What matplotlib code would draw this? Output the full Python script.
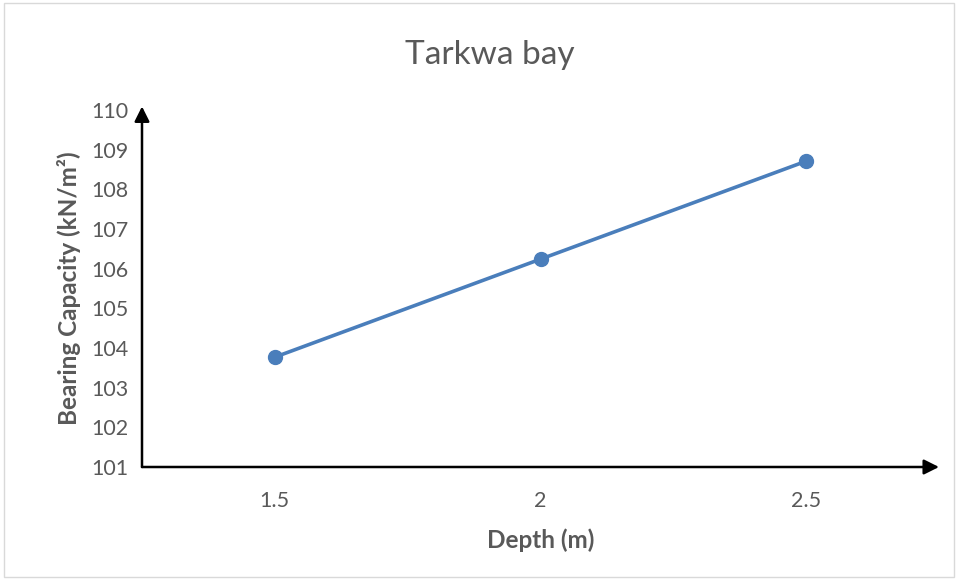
import matplotlib
matplotlib.use("Agg")
import matplotlib.pyplot as plt
from matplotlib.patches import Rectangle

depth = [1.5, 2, 2.5]
capacity = [103.77, 106.24, 108.71]
y_ticks = [101, 102, 103, 104, 105, 106, 107, 108, 109, 110]

plt.rcParams['font.family'] = ['Lato', 'DejaVu Sans']
grey = '#595959'
blue = '#4A7EBB'

fig = plt.figure(figsize=(9.58, 5.8), dpi=100)
fig.patch.set_facecolor('white')
fig.add_artist(Rectangle((0.004, 0.005), 0.992, 0.99, transform=fig.transFigure,
                         fill=False, edgecolor='#D9D9D9', linewidth=1.0))

ax = fig.add_axes([142 / 958, 113 / 580, (939 - 142) / 958, (467 - 110) / 580])
pos = list(range(len(depth)))
ax.plot(pos, capacity, color=blue, linewidth=2.6, marker='o', markersize=10,
        markerfacecolor=blue, markeredgecolor=blue, zorder=3)

ax.set_xlim(-0.5, len(depth) - 0.5)
ax.set_ylim(y_ticks[0], y_ticks[-1])
ax.set_xticks(pos)
ax.set_xticklabels([str(d) for d in depth])
ax.set_yticks(y_ticks)
ax.tick_params(axis='both', length=0, labelsize=15.5, colors=grey)
ax.tick_params(axis='x', pad=17)
ax.tick_params(axis='y', pad=10)
for s in ax.spines.values():
    s.set_visible(False)

# arrowed axes
ax.annotate('', xy=(1.0, 0), xytext=(0, 0), xycoords='axes fraction',
            arrowprops=dict(arrowstyle='-|>,head_length=0.9,head_width=0.45',
                            color='black', lw=1.8, shrinkA=0, shrinkB=0))
ax.annotate('', xy=(0, 1.01), xytext=(0, 0), xycoords='axes fraction',
            arrowprops=dict(arrowstyle='-|>,head_length=0.9,head_width=0.45',
                            color='black', lw=1.8, shrinkA=0, shrinkB=0))

ax.set_xlabel('Depth (m)', fontsize=17.5, fontweight='bold', color=grey, labelpad=13)
ax.set_ylabel('Bearing Capacity (kN/m²)', fontsize=17.5, fontweight='bold', color=grey, labelpad=7)
fig.text(490 / 958, 1 - 55 / 580, 'Tarkwa bay', ha='center', va='center',
         fontsize=24, color=grey)

fig.savefig('out.png', dpi=100, facecolor='white')
